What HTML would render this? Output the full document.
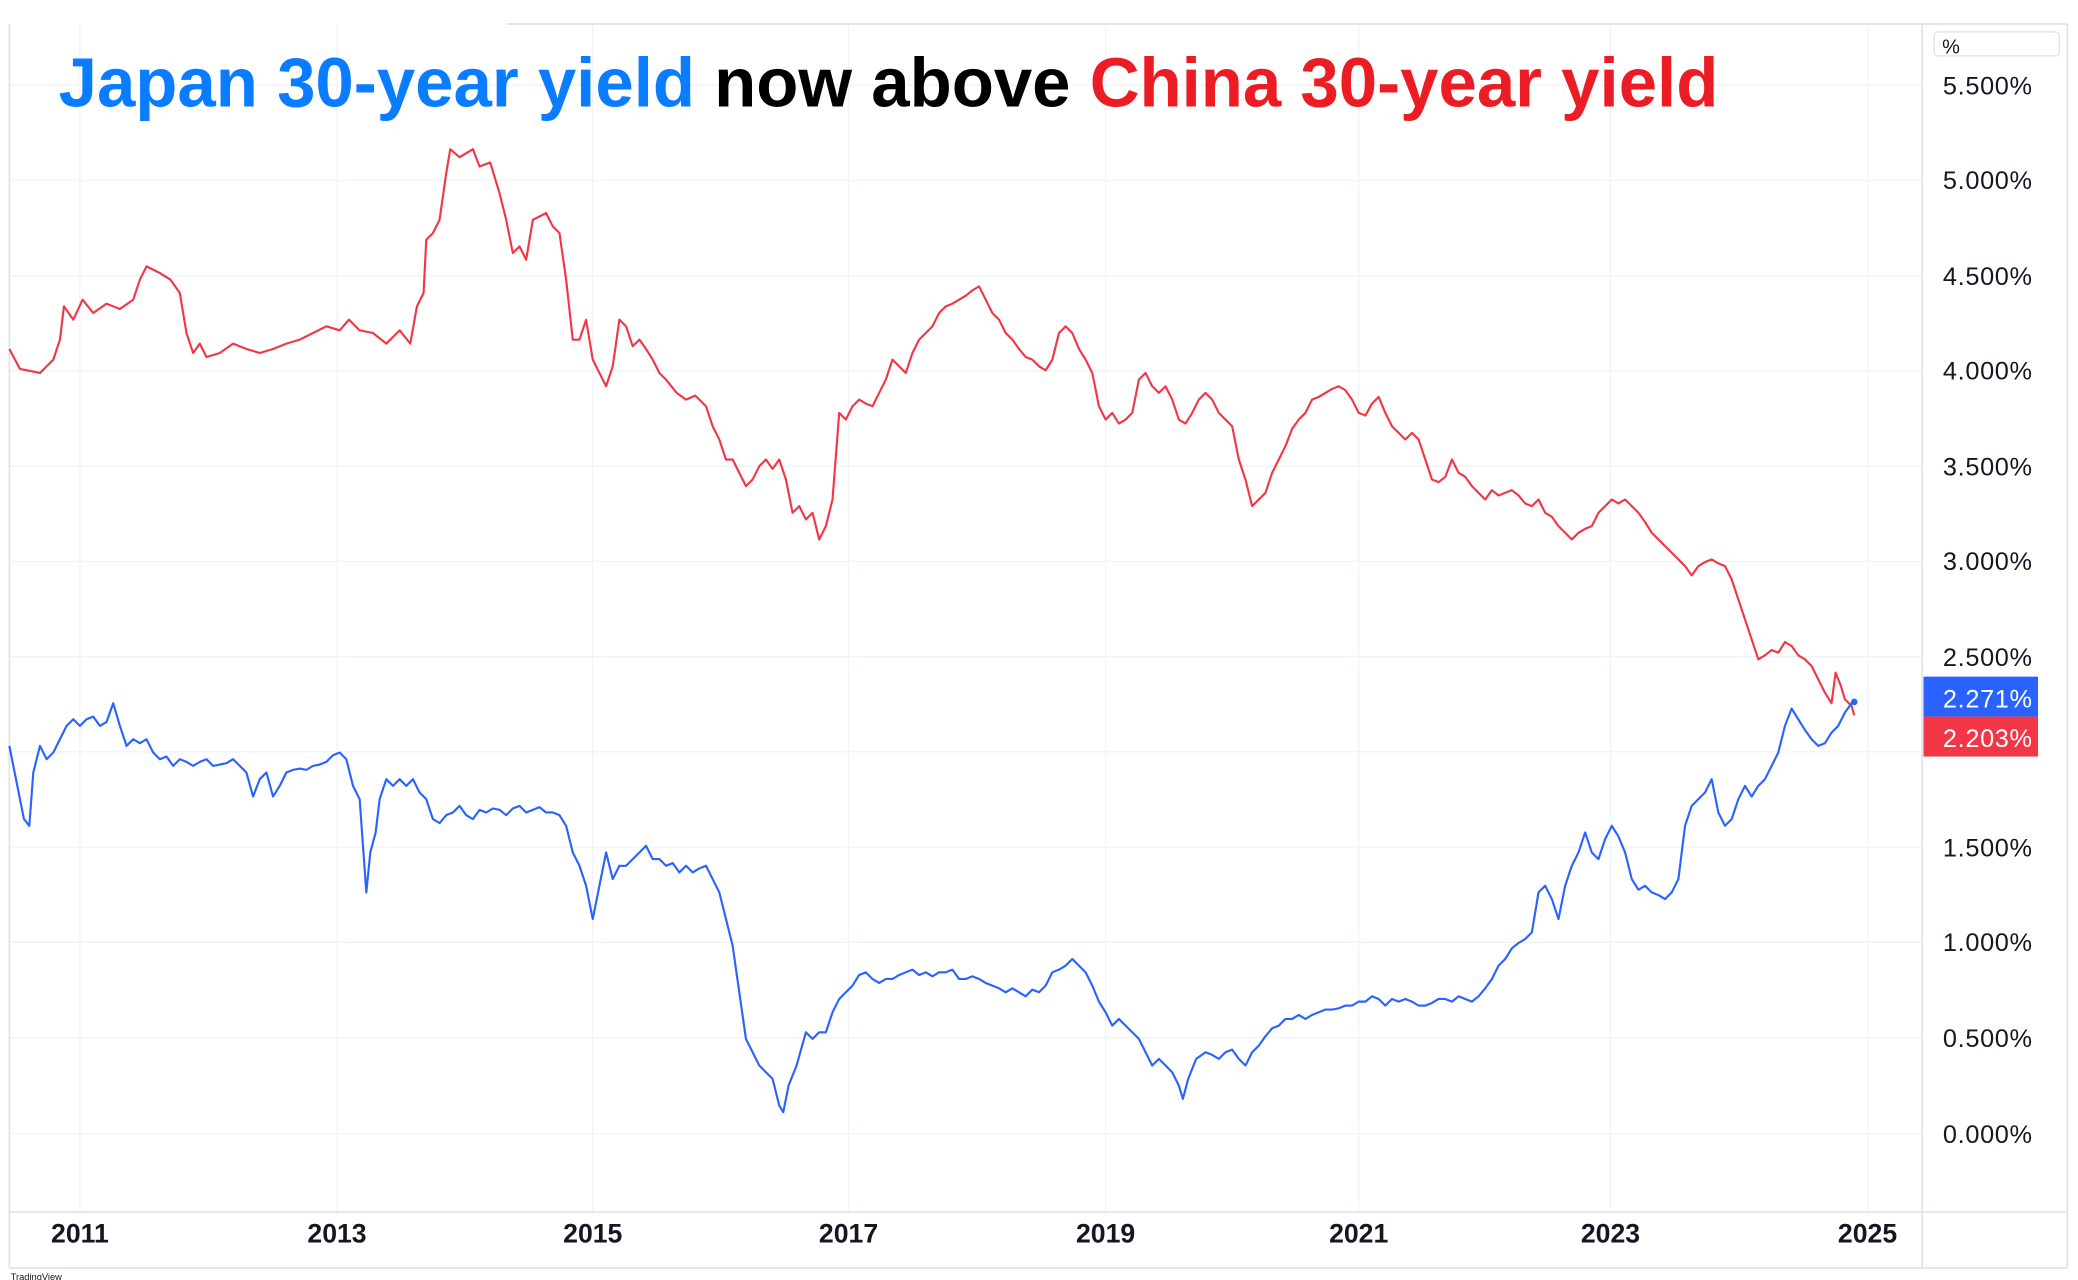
<!DOCTYPE html>
<html><head><meta charset="utf-8"><style>
html,body{margin:0;padding:0;background:#fff;}
svg{display:block;}
</style></head><body>
<svg width="2078" height="1280" viewBox="0 0 1560 961" preserveAspectRatio="none" xmlns="http://www.w3.org/2000/svg" font-family="Liberation Sans, DejaVu Sans, sans-serif">
<rect width="1560" height="961" fill="#fff"/>
<g stroke="#f0f3fa" stroke-width="1">
<line x1="7" y1="64" x2="1443" y2="64"/><line x1="7" y1="135.5" x2="1443" y2="135.5"/><line x1="7" y1="207" x2="1443" y2="207"/><line x1="7" y1="278.5" x2="1443" y2="278.5"/><line x1="7" y1="350" x2="1443" y2="350"/><line x1="7" y1="421.5" x2="1443" y2="421.5"/><line x1="7" y1="493" x2="1443" y2="493"/><line x1="7" y1="564.5" x2="1443" y2="564.5"/><line x1="7" y1="636" x2="1443" y2="636"/><line x1="7" y1="707.5" x2="1443" y2="707.5"/><line x1="7" y1="779" x2="1443" y2="779"/><line x1="7" y1="851" x2="1443" y2="851"/>
<line x1="60" y1="18" x2="60" y2="910"/><line x1="253" y1="18" x2="253" y2="910"/><line x1="445" y1="18" x2="445" y2="910"/><line x1="637" y1="18" x2="637" y2="910"/><line x1="830" y1="18" x2="830" y2="910"/><line x1="1020" y1="18" x2="1020" y2="910"/><line x1="1209" y1="18" x2="1209" y2="910"/><line x1="1402" y1="18" x2="1402" y2="910"/>
</g>
<g stroke="#e0e3eb" stroke-width="1.3" fill="none">
<line x1="7" y1="18" x2="7" y2="952"/>
<line x1="380" y1="18" x2="1552" y2="18"/>
<line x1="1443" y1="18" x2="1443" y2="952"/>
<line x1="1552" y1="18" x2="1552" y2="952"/>
<line x1="7" y1="910" x2="1552" y2="910"/>
<line x1="7" y1="952" x2="1552" y2="952"/>
</g>
<rect x="1452" y="24" width="94" height="18" rx="3" fill="#fff" stroke="#e0e3eb"/>
<text x="1458" y="40" font-size="15" fill="#131722">%</text>
<g font-size="19" fill="#131722" text-anchor="end" letter-spacing="0.5">
<text x="1526" y="71">5.500%</text><text x="1526" y="142">5.000%</text><text x="1526" y="214">4.500%</text><text x="1526" y="285">4.000%</text><text x="1526" y="357">3.500%</text><text x="1526" y="428">3.000%</text><text x="1526" y="500">2.500%</text><text x="1526" y="643">1.500%</text><text x="1526" y="714">1.000%</text><text x="1526" y="786">0.500%</text><text x="1526" y="858">0.000%</text>
</g>
<g font-size="20" font-weight="bold" fill="#131722" text-anchor="middle">
<text x="60" y="933">2011</text><text x="253" y="933">2013</text><text x="445" y="933">2015</text><text x="637" y="933">2017</text><text x="830" y="933">2019</text><text x="1020" y="933">2021</text><text x="1209" y="933">2023</text><text x="1402" y="933">2025</text>
</g>
<text x="44" y="80" font-size="52" font-weight="bold" textLength="1246" lengthAdjust="spacingAndGlyphs"><tspan fill="#0a7cff">Japan 30-year yield</tspan><tspan fill="#000"> now above </tspan><tspan fill="#ec1c24">China 30-year yield</tspan></text>
<polyline fill="none" stroke="#f23645" stroke-width="1.6" stroke-linejoin="round" points="7,262 15,277 30,280 40,270 45,255 48,230 55,240 62,225 70,235 80,228 90,232 100,225 105,210 110,200 120,205 128,210 135,220 140,250 145,265 150,258 155,268 165,265 175,258 185,262 195,265 205,262 215,258 225,255 235,250 245,245 255,248 262,240 270,248 280,250 290,258 300,248 308,258 313,230 318,220 320,180 325,175 330,165 335,130 338,112 345,118 355,112 360,125 368,122 375,145 380,165 385,190 390,185 395,195 400,165 410,160 415,170 420,175 425,210 430,255 435,255 440,240 445,270 450,280 455,290 460,275 465,240 470,245 475,260 480,255 485,262 490,270 495,280 500,285 508,295 515,300 522,297 530,305 535,320 540,330 545,345 550,345 555,355 560,365 565,360 570,350 575,345 580,352 585,345 590,360 595,385 600,380 605,390 610,385 615,405 620,395 625,375 630,310 635,315 640,305 645,300 650,303 655,305 660,295 665,285 670,270 675,275 680,280 685,265 690,255 695,250 700,245 705,235 710,230 715,228 720,225 725,222 730,218 735,215 740,225 745,235 750,240 755,250 760,255 765,262 770,268 775,270 780,275 785,278 790,270 795,250 800,245 805,250 810,262 815,270 820,280 825,305 830,315 835,310 840,318 845,315 850,310 855,285 860,280 865,290 870,295 875,290 880,300 885,315 890,318 895,310 900,300 905,295 910,300 915,310 920,315 925,320 930,345 935,360 940,380 945,375 950,370 955,355 960,345 965,335 970,322 975,315 980,310 985,300 990,298 995,295 1000,292 1005,290 1010,293 1015,300 1020,310 1025,312 1030,303 1035,298 1040,310 1045,320 1050,325 1055,330 1060,325 1065,330 1070,345 1075,360 1080,362 1085,358 1090,345 1095,355 1100,358 1105,365 1110,370 1115,375 1120,368 1125,372 1130,370 1135,368 1140,372 1145,378 1150,380 1155,375 1160,385 1165,388 1170,395 1175,400 1180,405 1185,400 1190,397 1195,395 1200,385 1205,380 1210,375 1215,378 1220,375 1225,380 1230,385 1235,392 1240,400 1245,405 1250,410 1255,415 1260,420 1265,425 1270,432 1275,425 1280,422 1285,420 1290,423 1295,425 1300,435 1305,450 1310,465 1315,480 1320,495 1325,492 1330,488 1335,490 1340,482 1345,485 1350,492 1355,495 1360,500 1365,510 1370,520 1375,528 1378,505 1382,515 1385,525 1390,530 1392,537"/>
<polyline fill="none" stroke="#2962ff" stroke-width="1.6" stroke-linejoin="round" points="7,560 12,585 18,615 22,620 25,580 30,560 35,570 40,565 45,555 50,545 55,540 60,545 65,540 70,538 75,545 80,542 85,528 90,545 95,560 100,555 105,558 110,555 115,565 120,570 125,568 130,575 135,570 140,572 145,575 150,572 155,570 160,575 165,574 170,573 175,570 180,575 185,580 190,598 195,585 200,580 205,598 210,590 215,580 220,578 225,577 230,578 235,575 240,574 245,572 250,567 255,565 260,570 265,590 270,600 275,670 278,640 282,625 285,600 290,585 295,590 300,585 305,590 310,585 315,595 320,600 325,615 330,618 335,612 340,610 345,605 350,612 355,615 360,608 365,610 370,607 375,608 380,612 385,607 390,605 395,610 400,608 405,606 410,610 415,610 420,612 425,620 430,640 435,650 440,665 445,690 450,665 455,640 460,660 465,650 470,650 475,645 480,640 485,635 490,645 495,645 500,650 505,648 510,655 515,650 520,655 525,652 530,650 535,660 540,670 545,690 550,710 555,745 560,780 565,790 570,800 575,805 580,810 585,830 588,835 592,815 598,800 605,775 610,780 615,775 620,775 625,760 630,750 635,745 640,740 645,732 650,730 655,735 660,738 665,735 670,735 675,732 680,730 685,728 690,732 695,730 700,733 705,730 710,730 715,728 720,735 725,735 730,733 735,735 740,738 745,740 750,742 755,745 760,742 765,745 770,748 775,743 780,745 785,740 790,730 795,728 800,725 805,720 810,725 815,730 820,740 825,752 830,760 835,770 840,765 845,770 850,775 855,780 860,790 865,800 870,795 875,800 880,805 885,815 888,825 892,810 898,795 905,790 910,792 915,795 920,790 925,788 930,795 935,800 940,790 945,785 950,778 955,772 960,770 965,765 970,765 975,762 980,765 985,762 990,760 995,758 1000,758 1005,757 1010,755 1015,755 1020,752 1025,752 1030,748 1035,750 1040,755 1045,750 1050,752 1055,750 1060,752 1065,755 1070,755 1075,753 1080,750 1085,750 1090,752 1095,748 1100,750 1105,752 1110,748 1115,742 1120,735 1125,725 1130,720 1135,712 1140,708 1145,705 1150,700 1155,670 1160,665 1165,675 1170,690 1175,665 1180,650 1185,640 1190,625 1195,640 1200,645 1205,630 1210,620 1215,628 1220,640 1225,660 1230,668 1235,665 1240,670 1245,672 1250,675 1255,670 1260,660 1265,620 1270,605 1275,600 1280,595 1285,585 1290,610 1295,620 1300,615 1305,600 1310,590 1315,598 1320,590 1325,585 1330,575 1335,565 1340,545 1345,532 1350,540 1355,548 1360,555 1365,560 1370,558 1375,550 1380,545 1385,535 1390,528 1392,527"/>
<circle cx="1392" cy="527" r="2.5" fill="#2962ff"/>
<rect x="1444" y="508" width="86" height="30" fill="#2962ff"/>
<rect x="1444" y="538" width="86" height="30" fill="#f23645"/>
<g font-size="19" fill="#fff" text-anchor="end" letter-spacing="0.5">
<text x="1526" y="531">2.271%</text><text x="1526" y="561">2.203%</text>
</g>
<text x="8" y="961" font-size="7" fill="#131722">TradingView</text>
</svg>
</body></html>
